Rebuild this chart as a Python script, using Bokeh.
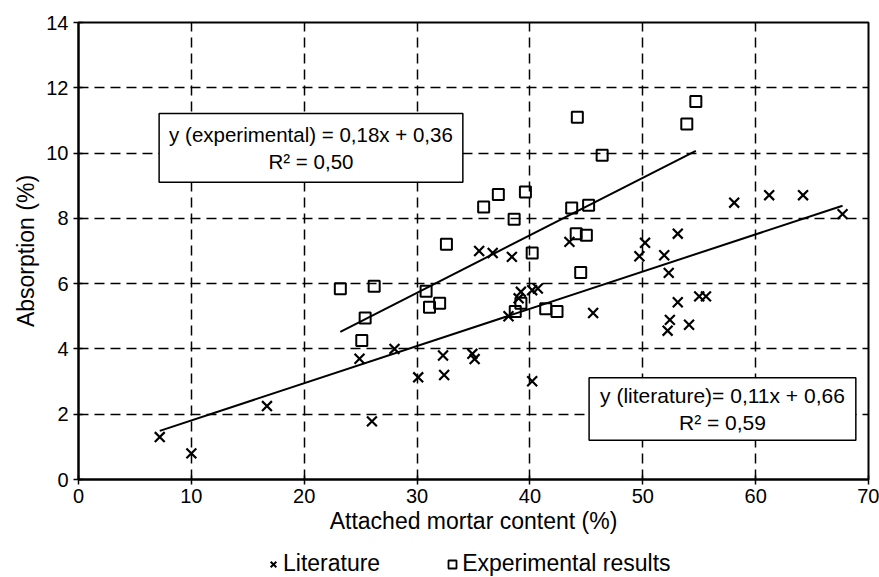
from bokeh.plotting import figure
from bokeh.models import Range1d, Label, Legend, LegendItem, FixedTicker
from bokeh.layouts import column
from bokeh.embed import file_html
from bokeh.resources import INLINE
import numpy as np

# Literature data (attached mortar content %, absorption %)
lit_x = [7.2, 10.0, 16.7, 24.9, 26.0, 28.0, 30.1, 32.3, 32.4, 34.9, 35.1,
         35.5, 36.7, 38.4, 38.1, 39.0, 39.2, 40.2, 40.7, 40.2, 43.5, 45.6,
         49.7, 50.2, 51.9, 52.3, 53.1, 53.1, 55.0, 55.6, 52.4, 52.2, 54.1,
         58.1, 61.2, 64.2, 67.7]
lit_y = [1.3, 0.8, 2.25, 3.7, 1.78, 4.0, 3.13, 3.8, 3.2, 3.85, 3.69,
         7.0, 6.94, 6.82, 5.0, 5.55, 5.75, 5.8, 5.85, 3.01, 7.28, 5.10,
         6.84, 7.25, 6.87, 6.33, 7.53, 5.43, 5.61, 5.61, 4.89, 4.56, 4.74,
         8.48, 8.71, 8.71, 8.13]

# Experimental results
exp_x = [23.2, 25.1, 25.4, 26.2, 30.8, 31.1, 32.0, 32.6, 35.9, 37.2, 38.6,
         39.6, 40.2, 38.7, 39.2, 41.4, 42.4, 43.7, 44.1, 44.2, 44.5, 45.0,
         45.2, 46.4, 53.9, 54.7]
exp_y = [5.84, 4.26, 4.95, 5.92, 5.77, 5.28, 5.40, 7.21, 8.35, 8.73, 7.97,
         8.81, 6.94, 5.15, 5.40, 5.23, 5.15, 8.32, 7.53, 11.1, 6.34, 7.48,
         8.40, 9.93, 10.89, 11.58]

# Trend lines as drawn (slope, intercept)
lit_fit = [0.114, 0.67]
exp_fit = [0.176, 0.44]

x_ticks = [0, 10, 20, 30, 40, 50, 60, 70]
y_ticks = [0, 2, 4, 6, 8, 10, 12, 14]

series_names = ["Literature", "Experimental results"]
eq_exp = "y (experimental) = 0,18x + 0,36\nR\u00b2 = 0,50"
eq_lit = "y (literature)= 0,11x + 0,66\nR\u00b2 = 0,59"

FONT = "Liberation Sans"

p = figure(width=879, height=541, output_backend="svg", toolbar_location=None,
           x_range=Range1d(0, 70), y_range=Range1d(0, 14),
           min_border_left=78, min_border_right=11, min_border_top=22,
           min_border_bottom=62)
p.background_fill_color = "white"
p.border_fill_color = "white"
p.outline_line_color = "black"
p.outline_line_width = 2

for ax in (p.xaxis[0], p.yaxis[0]):
    ax.axis_line_width = 2
    ax.major_tick_line_width = 1.5
    ax.major_tick_in = 4
    ax.major_tick_out = 5
    ax.minor_tick_line_color = None
    ax.major_label_text_font = FONT
    ax.major_label_text_font_size = "20px"
    ax.major_label_text_color = "black"
    ax.axis_label_text_font = FONT
    ax.axis_label_text_font_size = "23px"
    ax.axis_label_text_font_style = "normal"
    ax.axis_label_text_color = "black"

p.xaxis[0].ticker = FixedTicker(ticks=x_ticks)
p.yaxis[0].ticker = FixedTicker(ticks=y_ticks)
p.xaxis[0].axis_label = "Attached mortar content (%)"
p.yaxis[0].axis_label = "Absorption (%)"
p.xaxis[0].major_label_standoff = 4
p.xaxis[0].axis_label_standoff = 2
p.yaxis[0].major_label_standoff = 5
p.yaxis[0].axis_label_standoff = 4

for g in (p.xgrid[0], p.ygrid[0]):
    g.grid_line_color = "black"
    g.grid_line_dash = "10 6"
    g.grid_line_width = 1.5

# trend lines
lx = np.array([min(lit_x), max(lit_x)])
ex = np.array([min(exp_x), max(exp_x)])
p.line(lx, lit_fit[0] * lx + lit_fit[1], line_color="black", line_width=2)
p.line(ex, exp_fit[0] * ex + exp_fit[1], line_color="black", line_width=2)

p.scatter(lit_x, lit_y, marker="x", size=14, line_color="black", line_width=2.2)
p.scatter(exp_x, exp_y, marker="square", size=11, line_color="black",
          line_width=2, fill_alpha=0)

lab1 = Label(x=20.6, y=10.16, text=eq_exp, text_align="center",
             text_baseline="middle", text_font=FONT, text_font_size="20.5px",
             text_color="black", border_line_color="black", border_line_width=1.5,
             background_fill_color="white", padding=(10, 9))
lab2 = Label(x=57.06, y=2.16, text=eq_lit, text_align="center",
             text_baseline="middle", text_font=FONT, text_font_size="21px",
             text_color="black", border_line_color="black", border_line_width=1.5,
             background_fill_color="white", padding=(11, 6))
p.add_layout(lab1)
p.add_layout(lab2)

# legend strip below the chart (its frame is aligned with the chart's frame;
# the series drawn here fall outside its 0..1 view, only the legend shows)
lf = figure(width=879, height=36, output_backend="svg", toolbar_location=None,
            x_range=Range1d(0, 1), y_range=Range1d(0, 1),
            x_axis_location=None, y_axis_location=None,
            min_border_left=78, min_border_right=11, min_border_top=0,
            min_border_bottom=0)
lf.outline_line_color = None
lf.xgrid.visible = False
lf.ygrid.visible = False
lf.background_fill_color = "white"
lf.border_fill_color = "white"
g_lit = lf.scatter(lit_x, lit_y, marker="x", size=14, line_color="black",
                   line_width=2)
g_exp = lf.scatter(exp_x, exp_y, marker="square", size=11, line_color="black",
                   line_width=1.8, fill_alpha=0)
legend = Legend(items=[LegendItem(label=series_names[0], renderers=[g_lit], index=0),
                       LegendItem(label=series_names[1], renderers=[g_exp], index=0)],
                orientation="horizontal", location=(185, 0),
                border_line_color=None, background_fill_alpha=0,
                label_text_font=FONT, label_text_font_size="23px",
                label_text_color="black",
                glyph_width=20, glyph_height=22, label_standoff=0,
                spacing=62, margin=0, padding=2)
lf.add_layout(legend)

open("out.html", "w").write(file_html(column(p, lf, spacing=0), INLINE))
